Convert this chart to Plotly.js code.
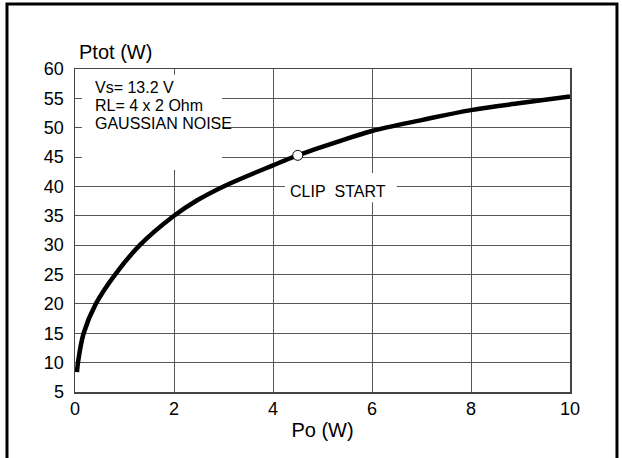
<!DOCTYPE html>
<html>
<head>
<meta charset="utf-8">
<script src="https://cdn.plot.ly/plotly-3.0.1.min.js"></script>
<style>
  html, body { margin: 0; padding: 0; background: #fff; }
  #chart { width: 622px; height: 458px; }
</style>
</head>
<body>
<div id="chart"></div>
<script>
// Data
const po   = [0.04, 0.06, 0.175, 0.42, 0.81, 1.31, 2.0, 2.46, 3.0, 4.0, 4.5, 5.3, 6.0, 7.0, 8.0, 9.0, 10.0];
const ptot = [8.4, 10.0, 15.0, 20.0, 25.0, 30.0, 35.0, 37.6, 40.0, 43.6, 45.3, 47.6, 49.45, 51.3, 53.0, 54.2, 55.3];
const clipPo = [4.5];
const clipPtot = [45.3];
const xTicks = [0, 2, 4, 6, 8, 10];
const yTicks = [5, 10, 15, 20, 25, 30, 35, 40, 45, 50, 55, 60];
const conditionLines = ["Vs= 13.2 V", "RL= 4 x 2 Ohm", "GAUSSIAN NOISE"];
const clipLabel = "CLIP&nbsp;&nbsp;START";
const xTitle = "Po (W)";
const yTitle = "Ptot (W)";

const FONT = "Liberation Sans, Arial, Helvetica, sans-serif";

const traces = [
  {
    x: po, y: ptot, type: "scatter", mode: "lines",
    line: { color: "#000", width: 4.5, shape: "spline", smoothing: 1.0 },
    hoverinfo: "skip", showlegend: false
  },
  {
    x: clipPo, y: clipPtot, type: "scatter", mode: "markers",
    marker: { symbol: "circle", size: 10, color: "#fff", line: { color: "#000", width: 1 } },
    hoverinfo: "skip", showlegend: false
  }
];

const annotations = conditionLines.map((t, i) => ({
  xref: "paper", yref: "paper",
  x: 0.036, y: 0.944 - i * 0.0558,
  xanchor: "left", yanchor: "middle",
  text: t, showarrow: false,
  font: { family: FONT, size: 16, color: "#000" }
}));
annotations.push({
  xref: "paper", yref: "paper", x: 0.531, y: 0.622,
  xanchor: "center", yanchor: "middle",
  text: clipLabel, showarrow: false,
  font: { family: FONT, size: 16, color: "#000" }
});
annotations.push({
  xref: "paper", yref: "paper", x: 0.004, y: 1.053,
  xanchor: "left", yanchor: "middle",
  text: yTitle, showarrow: false,
  font: { family: FONT, size: 20, color: "#000" }
});

const shapes = [
  // white box behind condition text
  { type: "rect", xref: "x", yref: "y", x0: 0.14, x1: 2.97, y0: 42.8, y1: 59.0,
    fillcolor: "#fff", line: { width: 0 }, layer: "between" },
  // white box behind CLIP START
  { type: "rect", xref: "x", yref: "y", x0: 4.24, x1: 6.5, y0: 37.3, y1: 42.3,
    fillcolor: "#fff", line: { width: 0 }, layer: "between" },
  // outer frame (open at bottom)
  { type: "path", xref: "paper", yref: "paper",
    path: "M -0.1374 -0.25 L -0.1374 1.2014 L 1.0949 1.2014 L 1.0949 -0.25",
    line: { color: "#000", width: 3 } }
];

const layout = {
  width: 622, height: 458,
  margin: { l: 75, r: 52, t: 69, b: 66 },
  paper_bgcolor: "#fff", plot_bgcolor: "#fff",
  font: { family: FONT, color: "#000" },
  showlegend: false,
  xaxis: {
    range: [0, 10], tickvals: xTicks, ticktext: xTicks.map(String),
    showgrid: true, gridcolor: "#555", gridwidth: 1,
    showline: true, linecolor: "#444", linewidth: 1.5, mirror: true,
    zeroline: false, ticks: "",
    tickfont: { family: FONT, size: 18, color: "#000" },
    title: { text: xTitle, font: { family: FONT, size: 20, color: "#000" }, standoff: 5 }
  },
  yaxis: {
    range: [5, 60], tickvals: yTicks, ticktext: yTicks.map(String),
    showgrid: true, gridcolor: "#555", gridwidth: 1,
    showline: true, linecolor: "#444", linewidth: 1.5, mirror: true,
    zeroline: false, ticks: "",
    ticklabelstandoff: 6,
    tickfont: { family: FONT, size: 18, color: "#000" }
  },
  annotations: annotations,
  shapes: shapes
};

Plotly.newPlot("chart", traces, layout, { displayModeBar: false, staticPlot: true });
</script>
</body>
</html>
